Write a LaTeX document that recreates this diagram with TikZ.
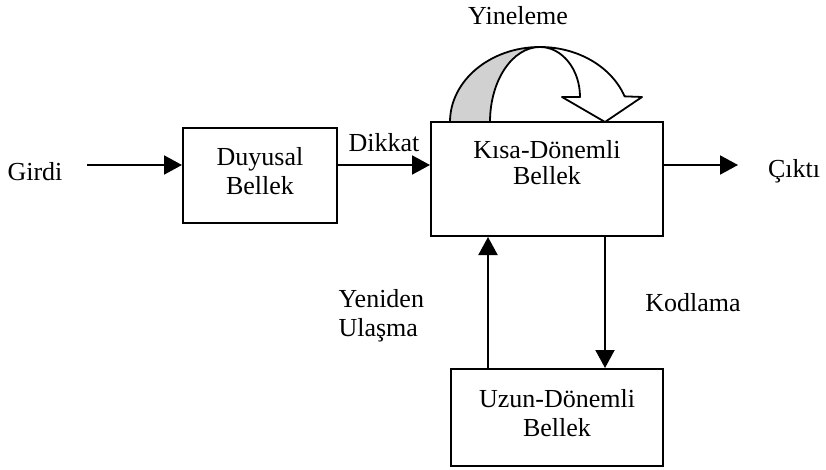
\documentclass[tikz,border=0pt]{standalone}
\usepackage{fontspec}
\setmainfont{Liberation Serif}
\usetikzlibrary{arrows.meta}

\begin{document}
\begin{tikzpicture}[x=1pt, y=1pt,
  metin/.style={font=\fontsize{26}{29}\selectfont},
  kutu/.style={metin, draw, line width=2pt, align=center, text depth=10pt},
  ok/.style={line width=2pt, -{Triangle[length=18pt,width=19pt]}}]
\useasboundingbox (0,0) rectangle (826,469);
\node[kutu, minimum width=154pt, minimum height=95pt] (duyusal) at (260,293.5) {Duyusal\\Bellek};
\node[kutu, minimum width=232pt, minimum height=114pt, text depth=34pt] (kisa) at (547,290) {Kısa-Dönemli\\[-3pt]Bellek};
\node[kutu, minimum width=212pt, minimum height=97pt] (uzun) at (557,51.5) {Uzun-Dönemli\\Bellek};
\node[metin] (girdi) at (35,297) {Girdi};
\node[metin] (cikti) at (794,298) {Çıktı};
\node[metin] (yineleme) at (518,453) {Yineleme};
\node[metin, align=left, anchor=west] (yeniden) at (335,153.5) {Yeniden\\Ulaşma};
\node[metin] (kodlama) at (693,166) {Kodlama};
% yatay oklar
\coordinate (giris) at (87,304);
\coordinate (cikis) at (738,304);
\draw[ok] (giris) -- (giris -| duyusal.west);
\draw[ok] (giris -| duyusal.east) -- node[metin, above=9pt] (dikkat) {Dikkat} (giris -| kisa.west);
\draw[ok] (cikis -| kisa.east) -- (cikis);
% dikey oklar
\coordinate (ulasma) at ([xshift=38pt]uzun.north west);
\coordinate (kodla) at ([xshift=-59pt]kisa.south east);
\draw[ok] (ulasma) -- (ulasma |- kisa.south);
\draw[ok] (kodla) -- (kodla |- uzun.north);
% tekrar oku
\filldraw[fill=black!18, line width=1.8pt, line join=round] (450,347) arc[start angle=180, end angle=90, x radius=90, y radius=75]
  arc[start angle=90, end angle=180, x radius=50, y radius=75] -- cycle;
\filldraw[fill=white, line width=1.8pt, line join=round] (540,422) arc[start angle=90, end angle=20, x radius=90, y radius=75]
  -- (642,372) -- (605,347) -- (562,372) -- (580,372) arc[start angle=0, end angle=90, x radius=40, y radius=50] -- cycle;
\end{tikzpicture}
\end{document}
